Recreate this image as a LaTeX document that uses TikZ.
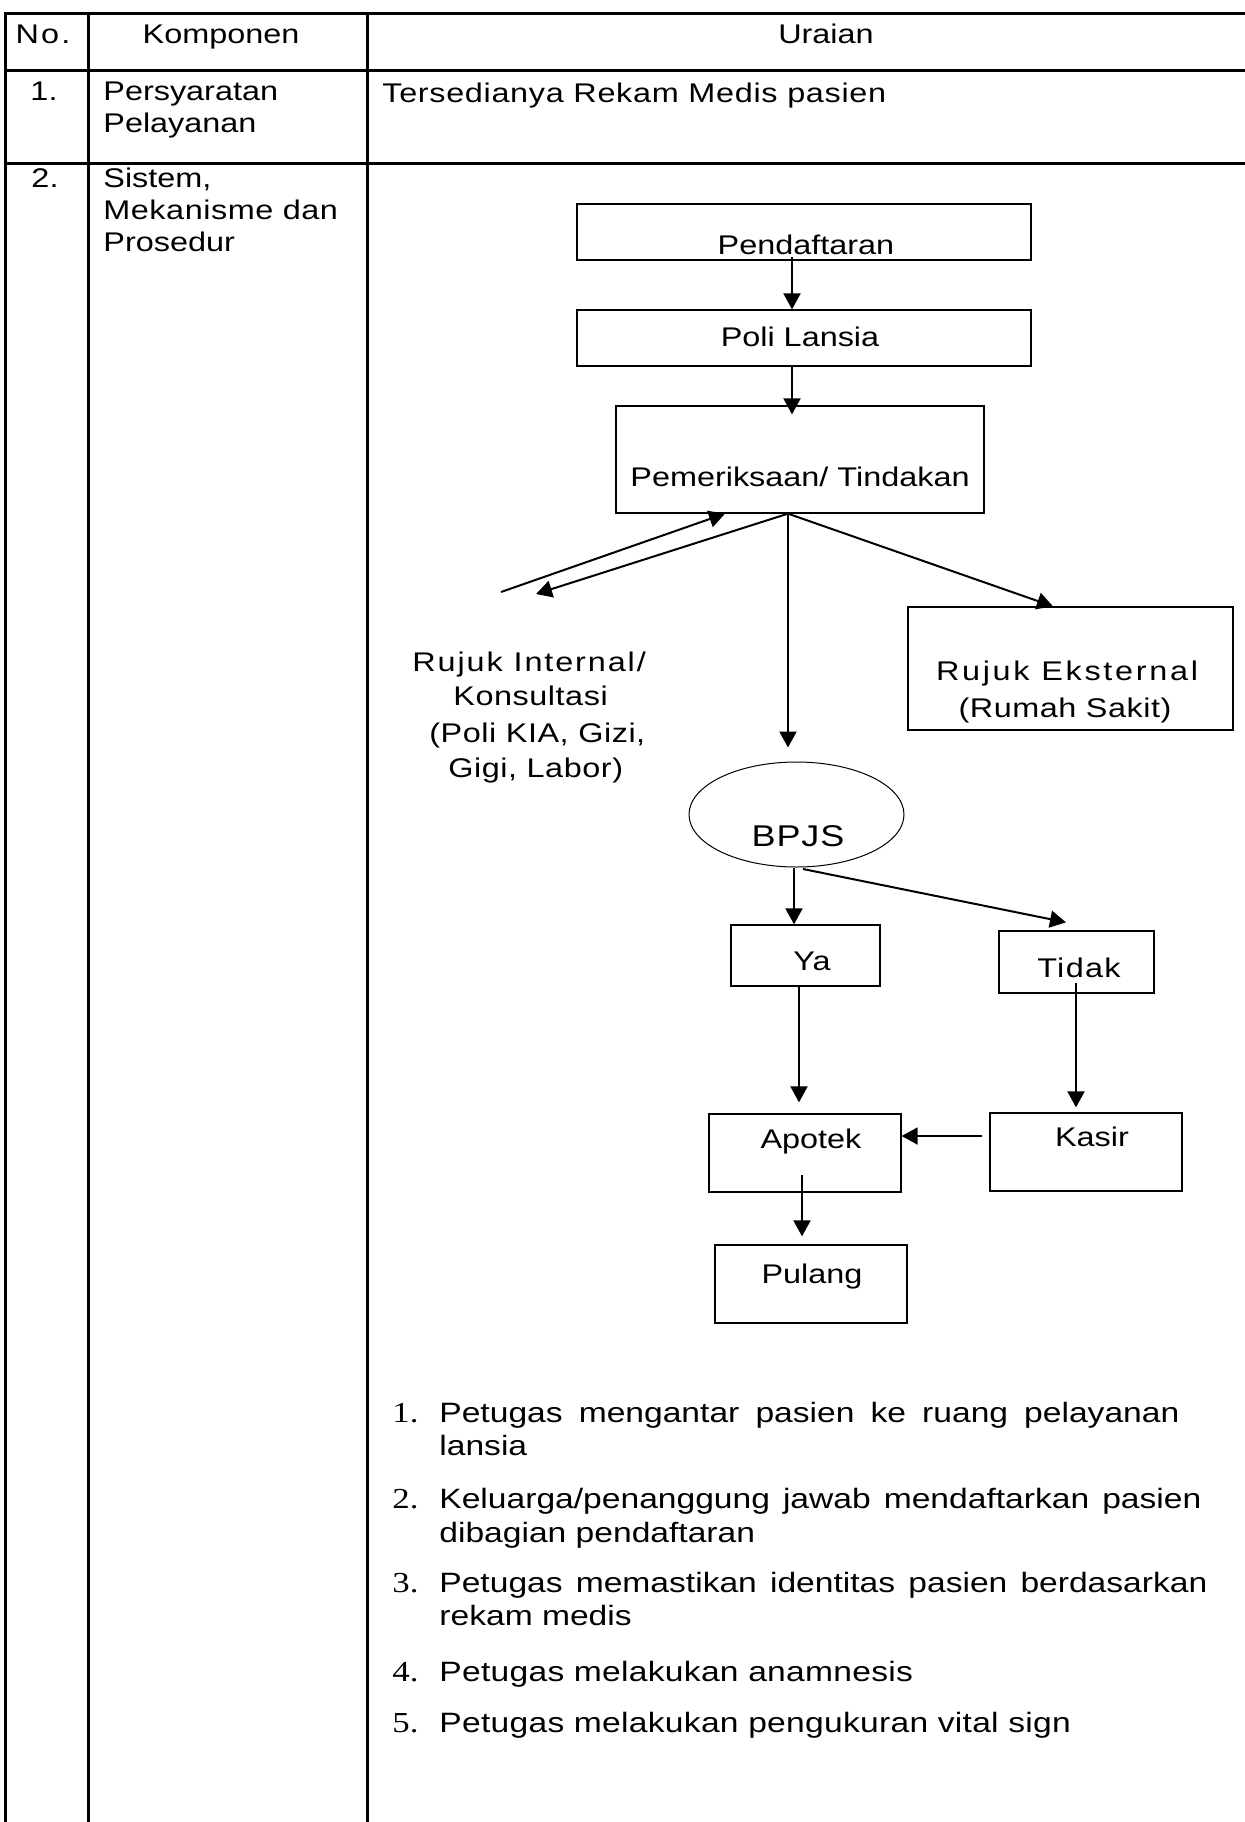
\documentclass[tikz,border=0pt]{standalone}
\usepackage{fontspec}
\setmainfont[FakeStretch=1.2]{Liberation Sans}
\newfontfamily\numfont[FakeStretch=1.2]{Liberation Serif}
\usetikzlibrary{arrows.meta,shapes.geometric,calc}
\newcommand{\lsp}[2]{{\addfontfeature{LetterSpace=#1}#2}}
\begin{document}
\begin{tikzpicture}[x=0.5pt,y=-0.5pt,
  tbl/.style={line width=1.5pt},
  box/.style={draw,line width=0.65pt,inner sep=0pt,rectangle},
  arr/.style={line width=1pt,-{Triangle[length=8pt,width=8.5pt]}},
  txt/.style={inner sep=0pt,anchor=base,font=\fontsize{13.5}{16}\selectfont},
  ltxt/.style={txt,anchor=base west},
  ntxt/.style={ltxt,font={\numfont\fontsize{14.5}{16}\selectfont}},
  lst/.style={ltxt,font=\fontsize{14}{16}\selectfont}]
\useasboundingbox (0,0) rectangle (1245,1822);
% table
\draw[tbl] (1245,13) -- (5.5,13) -- (5.5,1822);
\draw[tbl] (5.5,70) -- (1245,70);
\draw[tbl] (5.5,163) -- (1245,163);
\draw[tbl] (88,13) -- (88,1822);
\draw[tbl] (367,13) -- (367,1822);
% header
\node[txt] (hno) at (43,43) {\lsp{8}{No.}};
\node[txt] (hkomp) at (221,43) {Komponen};
\node[txt] (hur) at (826,43) {Uraian};
% row 1
\node[txt] (n1) at (44,100) {1.};
\node[ltxt] (k1a) at (103,100) {Persyaratan};
\node[ltxt] (k1b) at (103,132) {Pelayanan};
\node[ltxt] (u1) at (382,102) {\lsp{2.5}{Tersedianya Rekam Medis pasien}};
% row 2
\node[txt] (n2) at (45,187) {2.};
\node[ltxt] (k2a) at (103,187) {Sistem,};
\node[ltxt] (k2b) at (103,219) {\lsp{2}{Mekanisme dan}};
\node[ltxt] (k2c) at (103,251) {Prosedur};
% flowchart boxes
\node[box,minimum width=227pt,minimum height=28pt] (pend) at (804,232) {};
\node[box,minimum width=227pt,minimum height=28pt] (poli) at (804,338) {};
\node[box,minimum width=184pt,minimum height=53.5pt] (pem) at (800,459.5) {};
\node[box,minimum width=162.5pt,minimum height=61.5pt] (eks) at (1070.5,668.5) {};
\node[draw,ellipse,line width=0.5pt,minimum width=107.5pt,minimum height=52.5pt,inner sep=0pt] (bpjs) at (796.5,814.5) {};
\node[box,minimum width=74.5pt,minimum height=30.5pt] (ya) at (805.5,955.5) {};
\node[box,minimum width=77.5pt,minimum height=31pt] (tidak) at (1076.5,962) {};
\node[box,minimum width=96pt,minimum height=39pt] (apotek) at (805,1153) {};
\node[box,minimum width=96pt,minimum height=39pt] (kasir) at (1086,1152) {};
\node[box,minimum width=96pt,minimum height=39pt] (pulang) at (811,1284) {};
% flowchart texts
\node[txt] (tpend) at (806,254) {Pendaftaran};
\node[txt] (tpoli) at (800,346) {Poli Lansia};
\node[txt] (tpem) at (800,486) {Pemeriksaan/ Tindakan};
\node[ltxt] (ri1) at (412,671) {\lsp{7}{Rujuk Internal/}};
\node[ltxt] (ri2) at (453,705) {\lsp{2}{Konsultasi}};
\node[ltxt] (ri3) at (429,742) {\lsp{2}{(Poli KIA, Gizi,}};
\node[ltxt] (ri4) at (448,777) {\lsp{2}{Gigi, Labor)}};
\node[txt] (teks1) at (1067,680) {\lsp{10}{Rujuk Eksternal}};
\node[txt] (teks2) at (1065,717) {\lsp{2}{(Rumah Sakit)}};
\node[txt,font=\fontsize{15}{17}\selectfont] (tbpjs) at (798,846) {\lsp{3}{BPJS}};
\node[txt] (tya) at (812,970) {Ya};
\node[txt] (ttidak) at (1079,977) {\lsp{5}{Tidak}};
\node[txt] (tapotek) at (811,1148) {Apotek};
\node[txt] (tkasir) at (1092,1146) {Kasir};
\node[txt] (tpulang) at (812,1283) {Pulang};
% connectors
\coordinate (fan) at (pem.south -| 788,0);
\coordinate (riA) at (501,592);
\coordinate (riB) at (536,594);
\draw[arr] (792,257) -- (poli.north -| 792,0);
\draw[arr] (poli.south -| 792,0) -- ($(pem.north -| 792,0)+(0,9)$);
\draw[arr] (riA) -- (pem.south -| 725,0);
\draw[arr] (fan) -- (riB);
\draw[arr] (fan) -- ($(bpjs.north -| 788,0)+(0,-14)$);
\draw[arr] (fan) -- (eks.north -| 1053,0);
\draw[arr] (bpjs.south -| 794,0) -- (ya.north -| 794,0);
\draw[arr] (803,869) -- ($(tidak.north -| 1066,0)+(0,-8)$);
\draw[arr] (ya.south -| 799,0) -- ($(apotek.north -| 799,0)+(0,-11)$);
\draw[arr] (1076,983) -- ($(kasir.north -| 1076,0)+(0,-5)$);
\draw[arr] ($(kasir.west |- 0,1136)+(-7,0)$) -- (apotek.east |- 0,1136);
\draw[arr] (802,1175) -- ($(pulang.north -| 802,0)+(0,-8)$);
% list
\node[ntxt] (l1n) at (392,1422) {1.};
\node[lst] (l1a) at (439,1422) {\makebox[370pt][s]{Petugas mengantar pasien ke ruang pelayanan}};
\node[lst] (l1b) at (439,1455) {lansia};
\node[ntxt] (l2n) at (392,1508) {2.};
\node[lst] (l2a) at (439,1508) {\makebox[381pt][s]{Keluarga/penanggung jawab mendaftarkan pasien}};
\node[lst] (l2b) at (439,1542) {dibagian pendaftaran};
\node[ntxt] (l3n) at (392,1592) {3.};
\node[lst] (l3a) at (439,1592) {\makebox[384pt][s]{Petugas memastikan identitas pasien berdasarkan}};
\node[lst] (l3b) at (439,1625) {rekam medis};
\node[ntxt] (l4n) at (392,1681) {4.};
\node[lst] (l4a) at (439,1681) {\lsp{1}{Petugas melakukan anamnesis}};
\node[ntxt] (l5n) at (392,1732) {5.};
\node[lst] (l5a) at (439,1732) {\lsp{1}{Petugas melakukan pengukuran vital sign}};
\end{tikzpicture}
\end{document}
